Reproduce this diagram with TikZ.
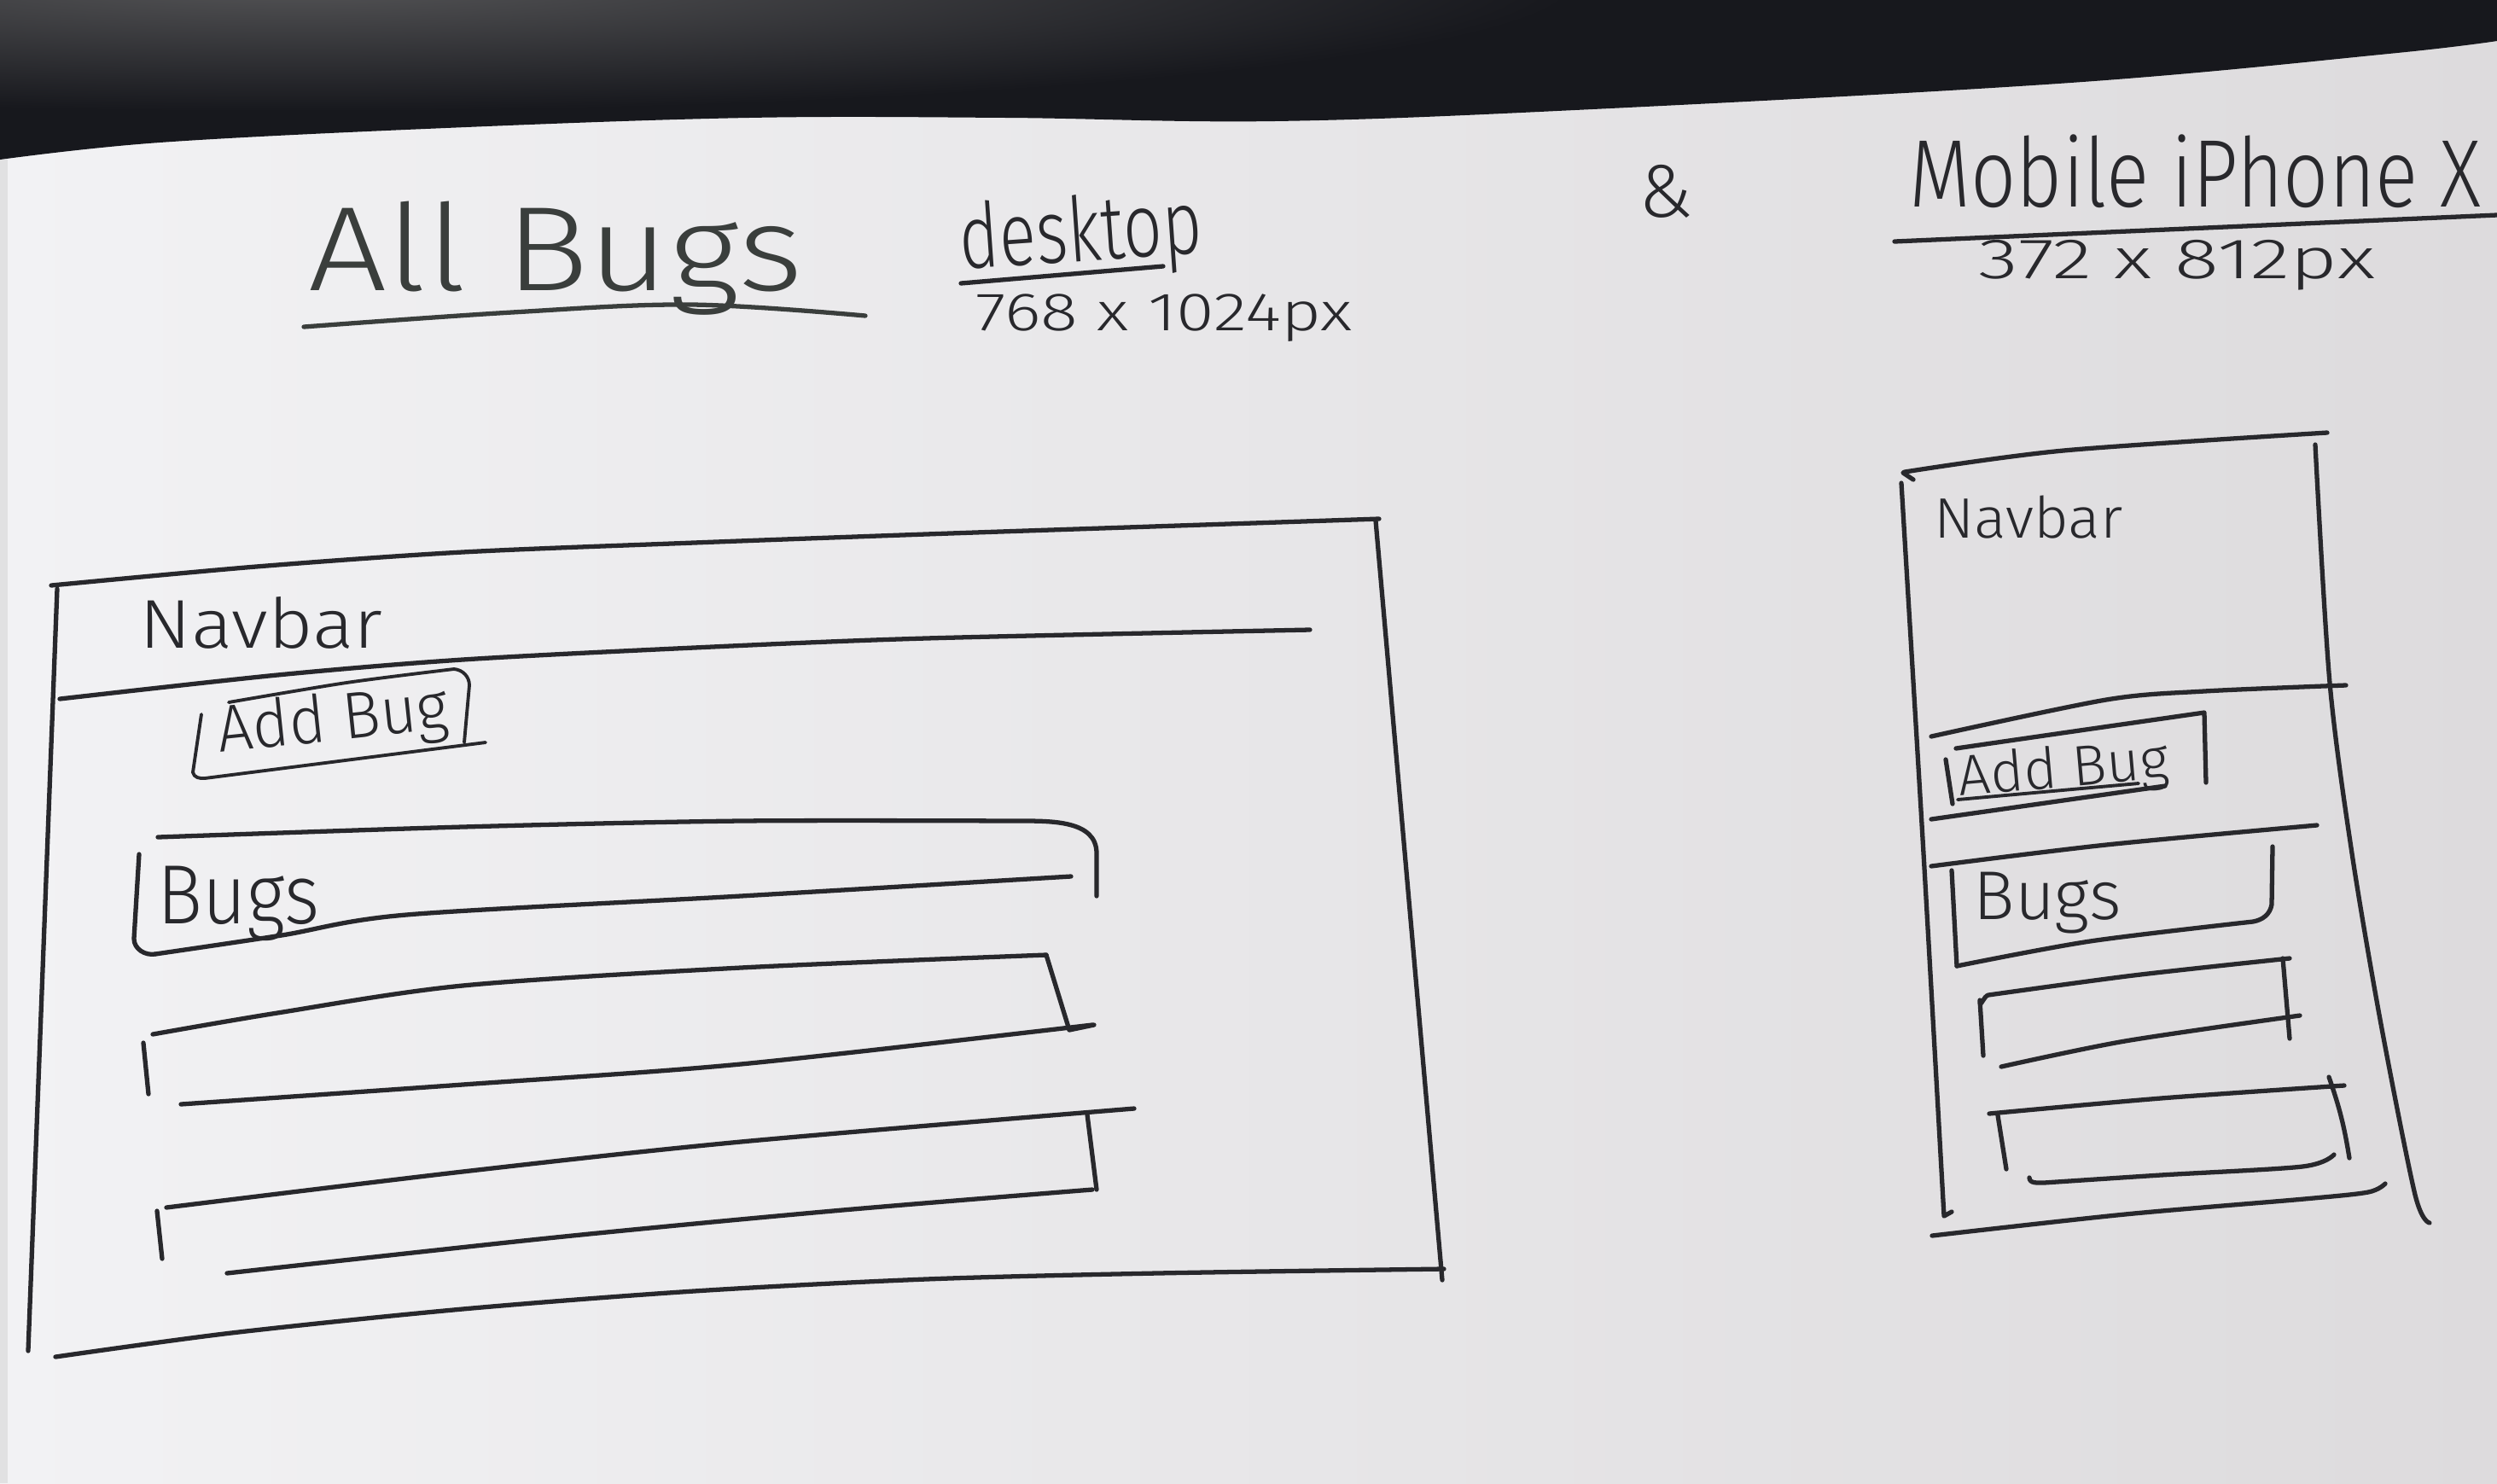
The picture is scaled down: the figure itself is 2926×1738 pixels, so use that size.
\documentclass[tikz,border=0pt]{standalone}
\usepackage{fontspec}
\usepackage{graphicx}
\newfontfamily\hand{Fira Sans Light}
\definecolor{ink}{RGB}{40,40,44}
\definecolor{inksoft}{RGB}{58,62,60}
\definecolor{paperL}{RGB}{242,242,244}
\definecolor{paperR}{RGB}{221,219,221}
\definecolor{band}{RGB}{23,24,29}
\definecolor{bandhi}{RGB}{84,84,86}
\begin{document}
\begin{tikzpicture}[x=0.01cm,y=-0.01cm,
  pen/.style={draw=ink,line width=1.5pt,line cap=round,line join=round},
  thinpen/.style={draw=ink,line width=1.1pt,line cap=round,line join=round},
  hand/.style={inner sep=0pt,text=ink,anchor=base west,font=\hand}]
\useasboundingbox (0,0) rectangle (2926,1738);

% sheet of paper
\shade[left color=paperL,right color=paperR] (0,0) rectangle (2926,1738);
\fill[black!18,opacity=0.5] (0,187) rectangle (9,1738);

% dark table behind the sheet
\def\tableedge{(0,0) -- (2926,0) -- (2926,48) -- plot[smooth,tension=0.6] coordinates
  {(2926,48) (2799,63) (2426,97) (1866,128) (1493,142) (1180,138) (877,138) (522,150) (187,167) (0,187)} -- cycle}
\fill[band] \tableedge;
\begin{scope}
  \clip \tableedge;
  \shade[inner color=bandhi,outer color=band] (350,-20) ellipse [x radius=15cm,y radius=1.5cm];
\end{scope}

% ---------- headings ----------
\node[hand,text=inksoft] (title) at (361,340) {\fontsize{40}{40}\selectfont\scalebox{1.16}[1]{All Bugs}};
\draw[pen,draw=inksoft] plot[smooth,tension=0.6] coordinates {(356,383) (600,366) (810,357) (1014,370)};

\node[hand,rotate=4] (desk) at (1126,316) {\fontsize{30}{30}\selectfont\scalebox{0.76}[1]{desktop}};
\draw[pen] (1126,332) -- (1363,312);
\node[hand] (desksize) at (1143,387) {\fontsize{18}{18}\selectfont\scalebox{1.28}[1]{768 x 1024px}};

\node[hand,anchor=center] (amp) at (1952,224) {\fontsize{25}{25}\selectfont\&};

\node[hand] (mob) at (2237,242) {\fontsize{32}{32}\selectfont\scalebox{0.83}[1]{Mobile iPhone X}};
\draw[pen] (2220,283) -- (2926,252);
\node[hand] (mobsize) at (2318,326) {\fontsize{19}{19}\selectfont\scalebox{1.44}[1]{372 x 812px}};

% ---------- desktop wireframe ----------
% outer frame
\draw[pen] plot[smooth,tension=0.5] coordinates {(60,686) (300,664) (542,647) (813,636) (1085,626) (1350,617) (1616,608)};
\draw[pen] (1612,610) -- (1690,1500);
\draw[pen] (67,690) -- (33,1583);
\draw[pen] plot[smooth,tension=0.5] coordinates {(65,1590) (271,1562) (542,1534) (813,1513) (1085,1499) (1356,1492) (1692,1487)};
% navbar
\draw[pen] plot[smooth,tension=0.5] coordinates {(70,819) (325,791) (542,773) (813,759) (1085,748) (1535,738)};
\node[hand] (dnav) at (163,759) {\fontsize{23}{23}\selectfont\scalebox{1.12}[1]{Navbar}};
% add bug button
\draw[thinpen] plot[smooth,tension=0.5] coordinates {(268,823) (406,800) (532,784)} to[out=-5,in=90] (550,803) -- (544,870);
\draw[thinpen] (236,837) -- (226,905) to[out=-80,in=185] (240,912) -- (569,870);
\node[hand,rotate=6] (dadd) at (257,882) {\fontsize{22}{22}\selectfont\scalebox{0.95}[1]{Add Bug}};
% bugs header
\draw[pen] plot[smooth,tension=0.5] coordinates {(185,981) (542,969) (868,962) (1193,962)} to[out=0,in=90] (1285,1000) -- (1285,1050);
\draw[pen] (163,1001) -- (157,1100) to[out=-90,in=190] (182,1118);
\draw[pen] plot[smooth,tension=0.5] coordinates {(182,1118) (330,1096) (476,1072) (868,1050) (1255,1027)};
\node[hand] (dbugs) at (184,1082) {\fontsize{28}{28}\selectfont\scalebox{0.9}[1]{Bugs}};
% first bug row
\draw[pen] plot[smooth,tension=0.5] coordinates {(179,1212) (325,1187) (542,1155) (868,1134) (1226,1119)};
\draw[pen] (1226,1119) -- (1253,1207) -- (1282,1201);
\draw[pen] (168,1222) -- (174,1282);
\draw[pen] plot[smooth,tension=0.5] coordinates {(212,1294) (542,1271) (868,1247) (1280,1201)};
% second bug row
\draw[pen] plot[smooth,tension=0.5] coordinates {(195,1415) (542,1373) (868,1338) (1329,1299)};
\draw[pen] (1274,1306) -- (1285,1394);
\draw[pen] (184,1419) -- (190,1475);
\draw[pen] plot[smooth,tension=0.5] coordinates {(266,1492) (651,1450) (976,1419) (1280,1394)};

% ---------- mobile wireframe ----------
% outer frame
\draw[pen] (2242,562) -- (2230,554) -- plot[smooth,tension=0.5] coordinates {(2232,553) (2418,528) (2727,507)};
\draw[pen] plot[smooth,tension=0.4] coordinates {(2228,566) (2254,1000) (2278,1425)} -- (2287,1420);
\draw[pen] plot[smooth,tension=0.5] coordinates {(2713,521) (2730,800) (2756,1000) (2790,1200) (2830,1400) (2847,1433)};
\draw[pen] plot[smooth,tension=0.5] coordinates {(2264,1448) (2490,1423) (2700,1405) (2775,1397) (2795,1387)};
% navbar
\node[hand] (mnav) at (2266,630) {\fontsize{19}{19}\selectfont\scalebox{1.05}[1]{Navbar}};
\draw[pen] plot[smooth,tension=0.5] coordinates {(2263,863) (2468,820) (2583,810) (2749,803)};
% add bug button
\draw[pen] plot[smooth,tension=0.5] coordinates {(2292,877) (2430,857) (2583,835)} -- (2585,917);
\draw[pen] (2280,890) -- (2288,942);
\draw[thinpen] (2294,937) -- (2506,918);
\draw[pen] (2263,960) -- (2537,921);
\node[hand,rotate=5] (madd) at (2296,933) {\fontsize{19}{19}\selectfont\scalebox{1.0}[1]{Add Bug}};
% bugs header
\draw[pen] plot[smooth,tension=0.5] coordinates {(2263,1015) (2468,990) (2715,967)};
\draw[pen] (2287,1020) -- (2293,1132);
\draw[pen] (2663,992) -- (2662,1060) to[out=-100,in=10] (2640,1080) -- plot[smooth,tension=0.5] coordinates {(2640,1080) (2449,1103) (2293,1132)};
\node[hand] (mbugs) at (2312,1077) {\fontsize{23}{23}\selectfont\scalebox{1.0}[1]{Bugs}};
% first bug row
\draw[pen] (2320,1175) to[out=-80,in=190] (2330,1166) -- plot[smooth,tension=0.5] coordinates {(2330,1166) (2500,1143) (2683,1123)};
\draw[pen] (2320,1172) -- (2324,1237);
\draw[pen] (2675,1123) -- (2683,1217);
\draw[pen] plot[smooth,tension=0.5] coordinates {(2345,1250) (2490,1220) (2695,1190)};
% second bug row
\draw[pen] plot[smooth,tension=0.5] coordinates {(2331,1305) (2532,1287) (2747,1272)};
\draw[pen] (2341,1307) -- (2351,1370);
\draw[pen] (2729,1262) to[bend left=5] (2753,1357);
\draw[pen] (2378,1380) to[out=-90,in=180] (2395,1386) -- plot[smooth,tension=0.5] coordinates {(2395,1386) (2532,1377) (2698,1367) (2735,1353)};
\end{tikzpicture}
\end{document}
